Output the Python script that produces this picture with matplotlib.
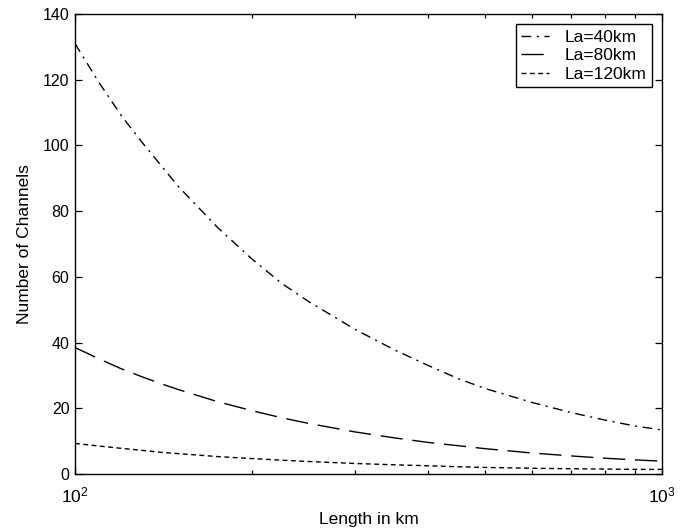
import matplotlib
matplotlib.use("Agg")
import matplotlib.pyplot as plt
from matplotlib.ticker import LogLocator, FixedLocator, NullFormatter

plt.rcParams['font.family'] = ['Liberation Sans', 'DejaVu Sans']
plt.rcParams['mathtext.fontset'] = 'custom'
plt.rcParams['mathtext.rm'] = 'Liberation Sans'
plt.rcParams['mathtext.it'] = 'Liberation Sans'

length_km = [100, 110, 120, 130, 140, 150, 175, 200, 225, 250, 300, 350,
             400, 450, 500, 600, 700, 800, 900, 1000]
ch_la40 = [131, 119, 109, 101, 94, 87.5, 75, 65.5, 58, 52.5, 44, 37.8,
           33, 29, 26, 21.8, 18.7, 16.4, 14.6, 13.4]
ch_la80 = [38.5, 35, 32, 29.6, 27.5, 25.7, 22, 19.3, 17.1, 15.4, 12.8, 11,
           9.6, 8.6, 7.7, 6.4, 5.5, 4.8, 4.3, 3.9]
ch_la120 = [9.3, 8.5, 7.8, 7.2, 6.6, 6.2, 5.3, 4.7, 4.2, 3.8, 3.2, 2.8,
            2.5, 2.2, 2.0, 1.75, 1.6, 1.5, 1.4, 1.4]
labels = ['La=40km', 'La=80km', 'La=120km']
y_ticks = [0, 20, 40, 60, 80, 100, 120, 140]

fig = plt.figure(figsize=(6.9, 5.32), dpi=100)
ax = fig.add_axes([75/690, 1-474/532, (662-75)/690, (474-14)/532])

ax.plot(length_km, ch_la40, color='black', lw=1.0, linestyle=(0, (7, 4, 1.5, 4)), label=labels[0])
ax.plot(length_km, ch_la80, color='black', lw=1.0, linestyle=(0, (16, 7)), label=labels[1])
ax.plot(length_km, ch_la120, color='black', lw=1.0, linestyle=(0, (3.5, 2.5)), label=labels[2])

ax.set_xscale('log')
ax.set_xlim(100, 1000)
ax.set_ylim(0, 140)
ax.set_yticks(y_ticks)
ax.xaxis.set_major_locator(FixedLocator([100, 1000]))
ax.set_xticklabels([r'$10^{2}$', r'$10^{3}$'])
ax.xaxis.set_minor_locator(LogLocator(base=10, subs=range(2, 10)))
ax.xaxis.set_minor_formatter(NullFormatter())

ax.tick_params(which='both', direction='in', top=True, right=True, labelsize=11.5)
ax.tick_params(axis='x', labelsize=12.5)
ax.tick_params(which='major', length=5, width=0.9)
ax.tick_params(which='minor', length=3, width=0.9)
ax.tick_params(axis='x', pad=8)
ax.tick_params(axis='y', pad=4)
for s in ax.spines.values():
    s.set_linewidth(1.0)

ax.set_xlabel('Length in km', fontsize=12.5, labelpad=5)
ax.set_ylabel('Number of Channels', fontsize=12.5, labelpad=8)

leg = ax.legend(loc='upper right', fontsize=12.5, frameon=True, fancybox=False,
                edgecolor='black', framealpha=1, handlelength=1.6,
                handletextpad=0.9, borderaxespad=0.6, labelspacing=0.2,
                borderpad=0.3)
leg.get_frame().set_linewidth(1.0)

fig.savefig('out.png', dpi=100)
